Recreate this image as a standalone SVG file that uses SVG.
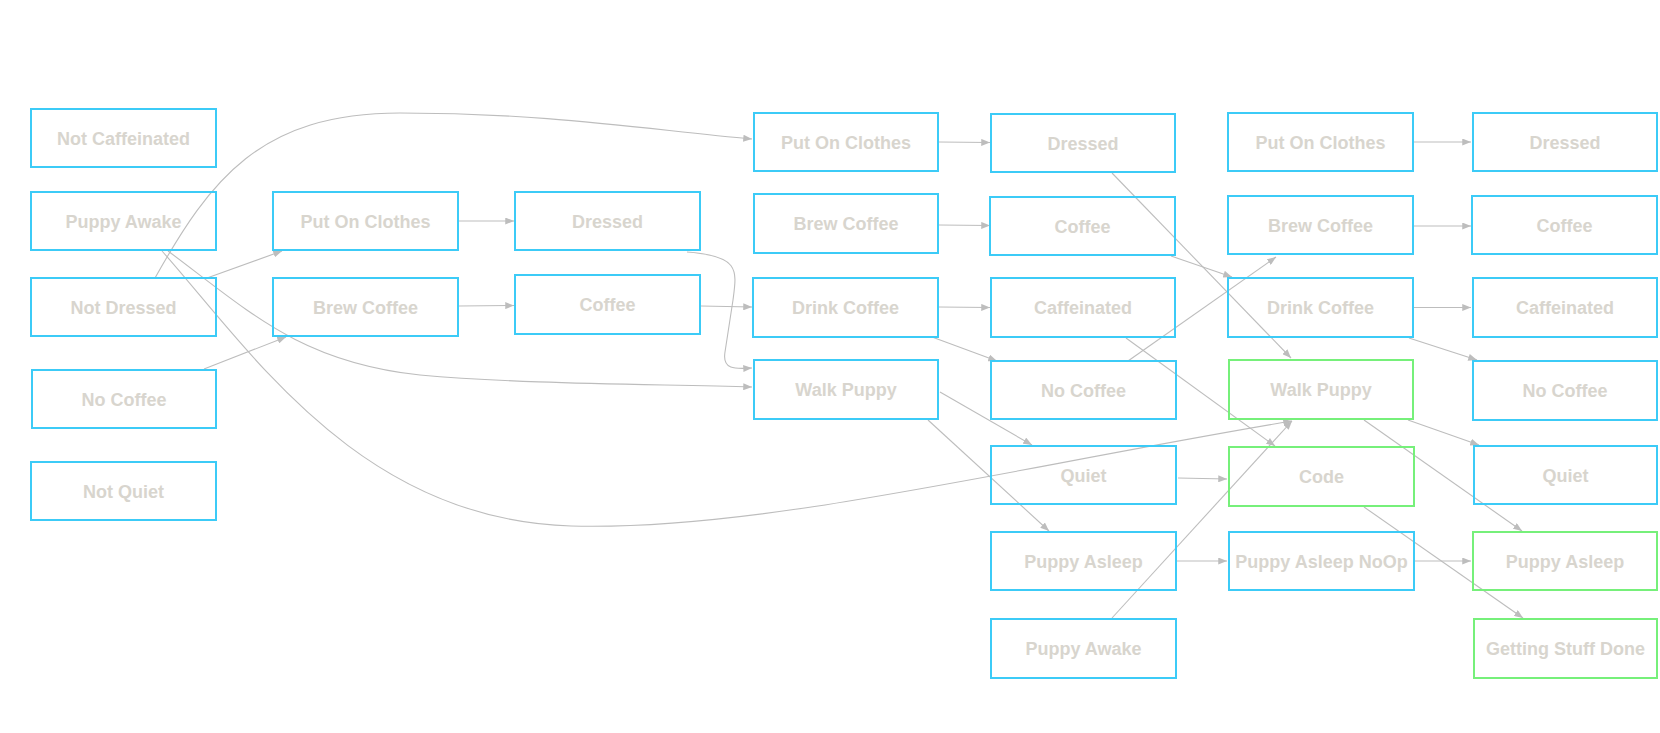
<svg xmlns="http://www.w3.org/2000/svg" width="1660" height="733" viewBox="0 0 1660 733">
<style>
.b rect{fill:none;stroke:#3ccbf7;stroke-width:2}
.g rect{fill:none;stroke:#76f07a;stroke-width:2}
text{font-family:"Liberation Sans",Arial,Helvetica,sans-serif;font-weight:bold;font-size:18px;fill:#d8d5ce;text-anchor:middle}
#edges path{fill:none;stroke:#bdbdbd;stroke-width:1.1;marker-end:url(#arr)}
</style>
<defs>
<marker id="arr" viewBox="0 0 10 8" markerWidth="9" markerHeight="7" refX="10" refY="4" orient="auto" markerUnits="userSpaceOnUse">
<path d="M0,0 L10,4 L0,8 z" fill="#bdbdbd"/>
</marker>
</defs>
<rect width="1660" height="733" fill="#fff"/>
<g id="edges">
<path d="M207,278 L282,251"/>
<path d="M204,369 L286,337"/>
<path d="M459,221 L514,221"/>
<path d="M459,306 L514,305.5"/>
<path d="M687,252 C740,256 737,270 733,300 L725,352 C722,370 735,369 752,368"/>
<path d="M701,306 L752,307"/>
<path d="M939,142 L990,142.5"/>
<path d="M939,225 L990,225.5"/>
<path d="M939,307 L990,307.5"/>
<path d="M932,337 L997,361"/>
<path d="M1112,173 L1291,358"/>
<path d="M1171,256 L1232,277"/>
<path d="M1126,338 L1275,446"/>
<path d="M1128,361 L1276,257"/>
<path d="M940,392 L1032,445"/>
<path d="M928,420 L1049,531"/>
<path d="M1178,478 L1227,479"/>
<path d="M1177,561 L1227,561"/>
<path d="M1112,618 L1292,421"/>
<path d="M1414,142 L1471,142"/>
<path d="M1414,226 L1471,226"/>
<path d="M1414,307.5 L1471,307.5"/>
<path d="M1409,338 L1477,360"/>
<path d="M1408,420 L1479,445"/>
<path d="M1364,420 L1522,531"/>
<path d="M1364,507 L1523,618"/>
<path d="M1415,561 L1471,561"/>
<path d="M168,251 C250,312 300,362 420,375 C520,384 650,384 752,387"/>
<path d="M162,251 C250,350 360,520 571,526 C760,531 1000,470 1292,421"/>
<path d="M155,278 C210,180 260,113 400,113 C550,113 650,130 752,139"/>
</g>
<g id="n1" class="b"><rect x="31" y="109" width="185" height="58"/><text x="123.5" y="144.5">Not Caffeinated</text></g>
<g id="n2" class="b"><rect x="31" y="192" width="185" height="58"/><text x="123.5" y="227.5">Puppy Awake</text></g>
<g id="n3" class="b"><rect x="31" y="278" width="185" height="58"/><text x="123.5" y="313.5">Not Dressed</text></g>
<g id="n4" class="b"><rect x="32" y="370" width="184" height="58"/><text x="124" y="405.5">No Coffee</text></g>
<g id="n5" class="b"><rect x="31" y="462" width="185" height="58"/><text x="123.5" y="497.5">Not Quiet</text></g>
<g id="n6" class="b"><rect x="273" y="192" width="185" height="58"/><text x="365.5" y="227.5">Put On Clothes</text></g>
<g id="n7" class="b"><rect x="273" y="278" width="185" height="58"/><text x="365.5" y="313.5">Brew Coffee</text></g>
<g id="n8" class="b"><rect x="515" y="192" width="185" height="58"/><text x="607.5" y="227.5">Dressed</text></g>
<g id="n9" class="b"><rect x="515" y="275" width="185" height="59"/><text x="607.5" y="310.5">Coffee</text></g>
<g id="n10" class="b"><rect x="754" y="113" width="184" height="58"/><text x="846" y="148.5">Put On Clothes</text></g>
<g id="n11" class="b"><rect x="754" y="194" width="184" height="59"/><text x="846" y="230">Brew Coffee</text></g>
<g id="n12" class="b"><rect x="753" y="278" width="185" height="59"/><text x="845.5" y="314">Drink Coffee</text></g>
<g id="n13" class="b"><rect x="754" y="360" width="184" height="59"/><text x="846" y="396">Walk Puppy</text></g>
<g id="n14" class="b"><rect x="991" y="114" width="184" height="58"/><text x="1083" y="149.5">Dressed</text></g>
<g id="n15" class="b"><rect x="990" y="197" width="185" height="58"/><text x="1082.5" y="232.5">Coffee</text></g>
<g id="n16" class="b"><rect x="991" y="278" width="184" height="59"/><text x="1083" y="314">Caffeinated</text></g>
<g id="n17" class="b"><rect x="991" y="361" width="185" height="58"/><text x="1083.5" y="396.5">No Coffee</text></g>
<g id="n18" class="b"><rect x="991" y="446" width="185" height="58"/><text x="1083.5" y="481.5">Quiet</text></g>
<g id="n19" class="b"><rect x="991" y="532" width="185" height="58"/><text x="1083.5" y="567.5">Puppy Asleep</text></g>
<g id="n20" class="b"><rect x="991" y="619" width="185" height="59"/><text x="1083.5" y="655">Puppy Awake</text></g>
<g id="n21" class="b"><rect x="1228" y="113" width="185" height="58"/><text x="1320.5" y="148.5">Put On Clothes</text></g>
<g id="n22" class="b"><rect x="1228" y="196" width="185" height="58"/><text x="1320.5" y="231.5">Brew Coffee</text></g>
<g id="n23" class="b"><rect x="1228" y="278" width="185" height="59"/><text x="1320.5" y="314">Drink Coffee</text></g>
<g id="n24" class="g"><rect x="1229" y="360" width="184" height="59"/><text x="1321" y="396">Walk Puppy</text></g>
<g id="n25" class="g"><rect x="1229" y="447" width="185" height="59"/><text x="1321.5" y="483">Code</text></g>
<g id="n26" class="b"><rect x="1229" y="532" width="185" height="58"/><text x="1321.5" y="567.5">Puppy Asleep NoOp</text></g>
<g id="n27" class="b"><rect x="1473" y="113" width="184" height="58"/><text x="1565" y="148.5">Dressed</text></g>
<g id="n28" class="b"><rect x="1472" y="196" width="185" height="58"/><text x="1564.5" y="231.5">Coffee</text></g>
<g id="n29" class="b"><rect x="1473" y="278" width="184" height="59"/><text x="1565" y="314">Caffeinated</text></g>
<g id="n30" class="b"><rect x="1473" y="361" width="184" height="59"/><text x="1565" y="397">No Coffee</text></g>
<g id="n31" class="b"><rect x="1474" y="446" width="183" height="58"/><text x="1565.5" y="481.5">Quiet</text></g>
<g id="n32" class="g"><rect x="1473" y="532" width="184" height="58"/><text x="1565" y="567.5">Puppy Asleep</text></g>
<g id="n33" class="g"><rect x="1474" y="619" width="183" height="59"/><text x="1565.5" y="655">Getting Stuff Done</text></g>
</svg>
